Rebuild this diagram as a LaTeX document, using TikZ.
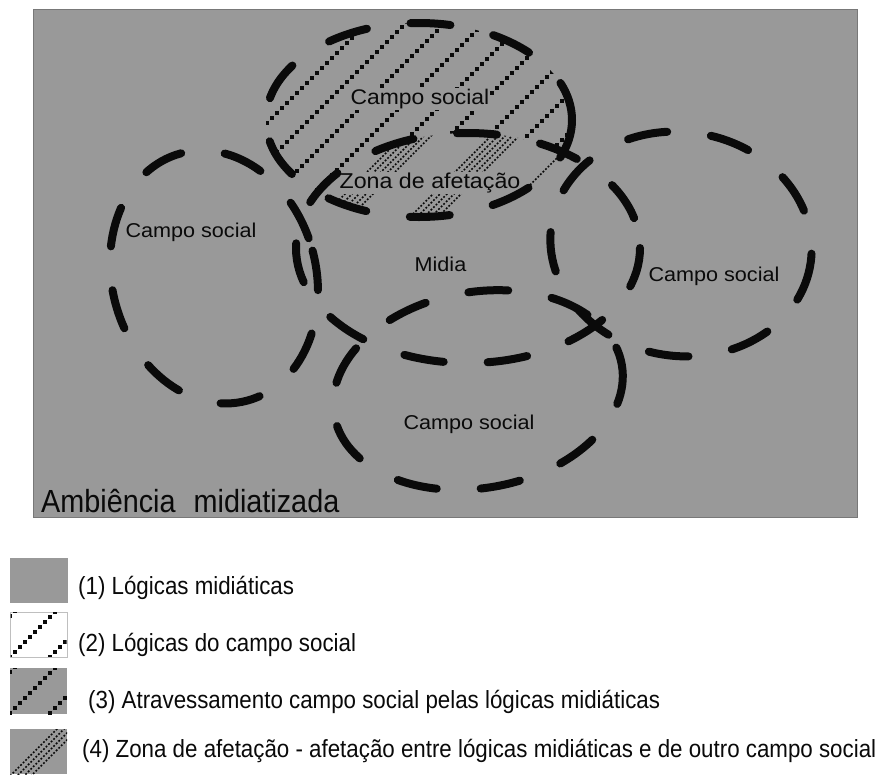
\documentclass[tikz,border=0pt]{standalone}
\usepackage{fontspec}
\setmainfont{Liberation Sans}
\newfontfamily\diagfont{Liberation Sans}[FakeStretch=1.08]
\newfontfamily\legfont{Liberation Sans}[FakeStretch=0.9]
\usepackage{graphicx}
\definecolor{bg}{RGB}{153,153,153}
\definecolor{framec}{RGB}{120,120,120}
\definecolor{ink}{RGB}{10,10,10}
\tikzset{
  ell/.style={ink, line width=8pt, line cap=round, dash pattern=on 40pt off 44pt},
  finehatch/.style={ink, line width=1.6pt, dash pattern=on 1.8pt off 1.8pt},
  dlabel/.style={text=ink, fill=bg, inner sep=1pt, font=\diagfont\fontsize{20}{24}\selectfont},
  leg/.style={text=ink, anchor=base west, inner sep=0pt, font=\legfont\fontsize{24.8}{30}\selectfont},
}
% a staircase line of square dots along x+y=#1, x from #2 to #3
\newcommand{\dotline}[3]{%
  \foreach \t in {#2,\the\numexpr#2+5\relax,...,#3}
    \fill[ink] (\t-2.2,#1-\t-2.2) rectangle ++(4.4,4.4);}
\begin{document}
\begin{tikzpicture}[x=1pt,y=-1pt]
\useasboundingbox (0,0) rectangle (881,774);
\fill[white] (0,0) rectangle (881,774);
\draw[framec, fill=bg, line width=1pt] (33,9) rectangle (857,517);

\def\topE{(419,120) ellipse [x radius=153, y radius=97]}
\def\midE{(468,248) ellipse [x radius=172, y radius=115]}

% hatching of the upper social field
\begin{scope}[even odd rule]
  \clip (0,0) rectangle (881,774) \midE;
  \clip \topE;
  \foreach \c in {312,351,...,741} {\dotline{\c}{262}{575}}
\end{scope}
% zone of affectation
\begin{scope}
  \clip \topE;
  \clip \midE;
  \foreach \b in {553,641,729}
    \foreach \k in {-14,-7,0,7,14}
      \draw[finehatch] (250,\b+\k-250) -- (650,\b+\k-650);
\end{scope}

% labels
\node[dlabel, font=\diagfont\fontsize{21.2}{25}\selectfont] (topcs) at (420,99) {Campo social};
\node[dlabel, font=\diagfont\fontsize{21.5}{25}\selectfont] (zona) at (430,183) {Zona de afetação};
\node[dlabel] (leftcs) at (191,232) {Campo social};
\node[dlabel] (midia) at (440.5,264.5) {Midia};
\node[dlabel] (rightcs) at (714,276) {Campo social};
\node[dlabel] (botcs) at (469,424) {Campo social};
\node[leg, font=\legfont\fontsize{32}{36}\selectfont] (amb) at (41,512) {Ambiência\hspace{18pt}midiatizada};

% dashed fields
\draw[ell] \topE;
\draw[ell] \midE;
\draw[ell, rotate around={15:(214,277)}] (214,277) ellipse [x radius=102, y radius=128];
\draw[ell, rotate around={-8:(681,244)}] (681,244) ellipse [x radius=131, y radius=112];
\draw[ell, rotate around={10:(478,390)}] (478,390) ellipse [x radius=146, y radius=98];

% legend swatches
\fill[bg] (10,558) rectangle (68,603);
\draw[gray!50, fill=white, line width=0.8pt] (10,612) rectangle (67,657);
\begin{scope}
  \clip (10.5,612.5) rectangle (66.5,656.5);
  \foreach \c in {626,667,707} {\dotline{\c}{5}{70}}
\end{scope}
\fill[bg] (10,668) rectangle (67,714);
\begin{scope}
  \clip (10,668) rectangle (67,714);
  \foreach \c in {682,723,763} {\dotline{\c}{5}{70}}
\end{scope}
\fill[bg] (10,729) rectangle (67,774);
\begin{scope}
  \clip (10,729) rectangle (67,774);
  \foreach \c in {786,793,800,807} \draw[finehatch] (0,\c) -- (100,\c-100);
\end{scope}

% legend texts
\node[leg] (l1) at (78,594.5) {(1) Lógicas midiáticas};
\node[leg] (l2) at (78,651) {(2) Lógicas do campo social};
\node[leg] (l3) at (88,708) {(3) Atravessamento campo social pelas lógicas midiáticas};
\node[leg] (l4) at (82,757) {(4) Zona de afetação - afetação entre lógicas midiáticas e de outro campo social};
\end{tikzpicture}
\end{document}
